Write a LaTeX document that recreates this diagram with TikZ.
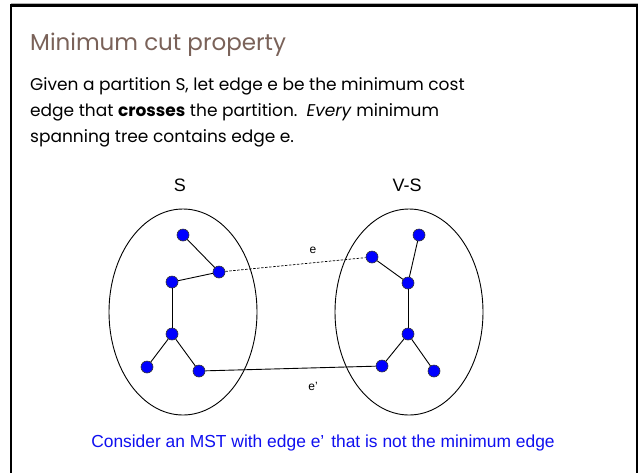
\documentclass[tikz,border=0pt]{standalone}
\usepackage{fontspec}
\usetikzlibrary{shapes.geometric}
\setmainfont{Poppins}
\newfontfamily\arialf{Liberation Sans}
\definecolor{titlebrown}{HTML}{7A6259}
\definecolor{vblue}{HTML}{0000FF}
\definecolor{capblue}{HTML}{1010F0}
\begin{document}
\begin{tikzpicture}[x=1pt,y=-1pt,
  vert/.style={circle,draw=black!80,line width=0.6pt,fill=vblue,inner sep=0pt,minimum size=12pt},
  treeedge/.style={draw=black,line width=0.9pt},
  setshape/.style={ellipse,draw=black,line width=0.9pt,inner sep=0pt},
  bodyline/.style={anchor=base west,inner sep=0pt,font=\fontsize{17}{20}\selectfont},
  lbl/.style={inner sep=0pt,font=\arialf}]
\useasboundingbox (0,0) rectangle (639,472);
\fill[white] (0,0) rectangle (639,472);
% frame
\draw[gray!60,line width=1pt] (11,3.5) -- (638,3.5);
\draw[black,line width=2.5pt] (11,500) -- (11,5.5) -- (637,5.5) -- (637,500);
% title and body
\node[anchor=base west,inner sep=0pt,text=titlebrown,font=\fontsize{23}{28}\selectfont] (title) at (30,50) {Minimum cut property};
\node[bodyline] (l1) at (30,90) {Given a partition S, let edge e be the minimum cost};
\node[bodyline] (l2) at (30,116) {edge that \textbf{crosses} the partition.\ \ \textit{Every} minimum};
\node[bodyline] (l3) at (30,142) {spanning tree contains edge e.};
% sets
\node[setshape,minimum width=148pt,minimum height=206pt] (S) at (183,312) {};
\node[setshape,minimum width=148pt,minimum height=206pt] (VS) at (409,312) {};
\node[lbl,font=\arialf\fontsize{18}{20}\selectfont] (Slbl) at (180,185) {S};
\node[lbl,font=\arialf\fontsize{18}{20}\selectfont] (VSlbl) at (407,185) {V-S};
% left tree
\node[vert] (a1) at (183,235) {};
\node[vert] (a2) at (219,272) {};
\node[vert] (a3) at (172,282) {};
\node[vert] (a4) at (172,334) {};
\node[vert] (a5) at (147,367) {};
\node[vert] (a6) at (199,371) {};
% right tree
\node[vert] (b1) at (419,235) {};
\node[vert] (b2) at (372,257) {};
\node[vert] (b3) at (408,283) {};
\node[vert] (b4) at (408,334) {};
\node[vert] (b5) at (382,366) {};
\node[vert] (b6) at (434,371) {};
% edges
\draw[treeedge] (a1) -- (a2);
\draw[treeedge] (a2) -- (a3);
\draw[treeedge] (a3) -- (a4);
\draw[treeedge] (a4) -- (a5);
\draw[treeedge] (a4) -- (a6);
\draw[treeedge] (b1) -- (b3);
\draw[treeedge] (b2) -- (b3);
\draw[treeedge] (b3) -- (b4);
\draw[treeedge] (b4) -- (b5);
\draw[treeedge] (b4) -- (b6);
\draw[treeedge,dash pattern=on 2.5pt off 1.5pt,line width=0.7pt] (a2) -- (b2);
\draw[treeedge] (a6) -- (b5);
\node[lbl,font=\arialf\fontsize{12}{14}\selectfont] (elbl) at (313,250) {e};
\node[lbl,font=\arialf\fontsize{12}{14}\selectfont] (eplbl) at (313,386) {e’};
% caption
\node[inner sep=0pt,text=capblue,font=\arialf\fontsize{17.4}{20}\selectfont] (cap) at (323,443) {Consider an MST with edge e’\hspace{0.4em}that is not the minimum edge};
\end{tikzpicture}
\end{document}
